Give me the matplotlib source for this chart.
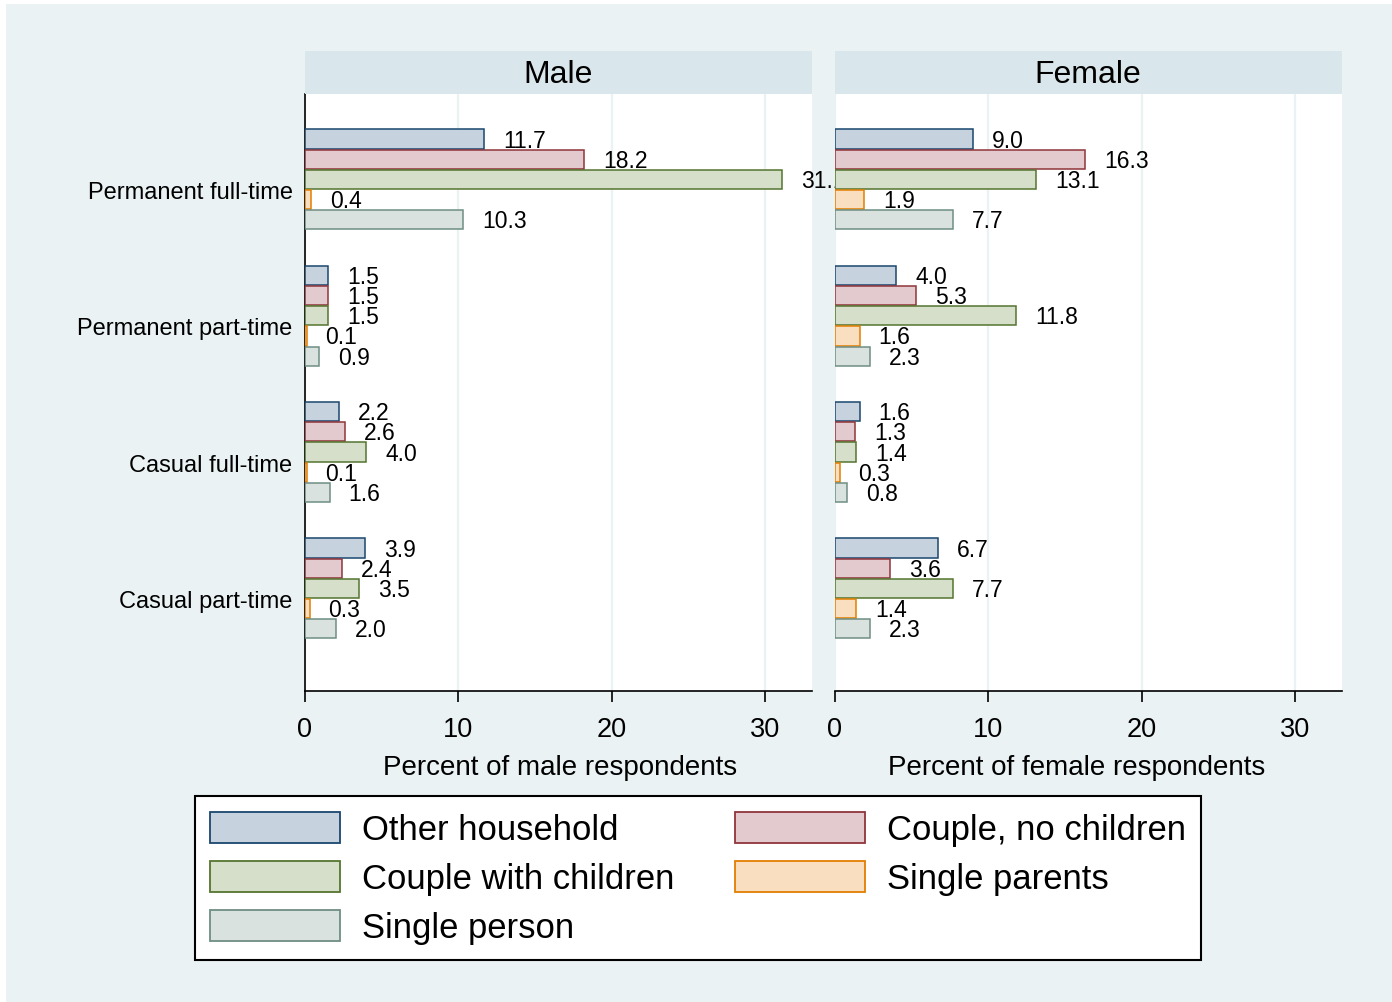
import numpy as np
import matplotlib.pyplot as plt
from matplotlib.patches import Rectangle, Patch

plt.rcParams['font.family'] = ['Liberation Sans', 'DejaVu Sans']

categories = ["Permanent full-time", "Permanent part-time", "Casual full-time", "Casual part-time"]
households = ["Other household", "Couple, no children", "Couple with children",
              "Single parents", "Single person"]

# rows = categories, columns = household types
male = np.array([[11.7, 18.2, 31.1, 0.4, 10.3],
                 [1.5, 1.5, 1.5, 0.1, 0.9],
                 [2.2, 2.6, 4.0, 0.1, 1.6],
                 [3.9, 2.4, 3.5, 0.3, 2.0]])
female = np.array([[9.0, 16.3, 13.1, 1.9, 7.7],
                   [4.0, 5.3, 11.8, 1.6, 2.3],
                   [1.6, 1.3, 1.4, 0.3, 0.8],
                   [6.7, 3.6, 7.7, 1.4, 2.3]])

fills = ["#C6D2DD", "#E3CACE", "#D5DFCA", "#F9DFC0", "#DAE2DF"]
edges = ["#1A476F", "#90353B", "#55752F", "#E37E00", "#6E8E84"]

bg = "#EAF2F3"
strip = "#D9E6EB"

W, H = 1392, 1003
fig = plt.figure(figsize=(W / 100, H / 100), dpi=100)
fig.patch.set_facecolor("white")
fig.patches.append(Rectangle((6 / W, 0), 1, 1 - 5 / H, transform=fig.transFigure,
                             facecolor=bg, edgecolor="none", zorder=-10))

group_pitch = 6.75
xmax = 33.07

panels = [("Male", male, "Percent of male respondents", 305, 0.503),
          ("Female", female, "Percent of female respondents", 835, 0.477)]

for title, data, xlabel, left_px, xlab_pos in panels:
    ax = fig.add_axes([left_px / W, 1 - 692 / H, 507 / W, (692 - 95) / H])
    ax.set_facecolor("white")
    for k in range(len(households)):
        y = np.arange(len(categories)) * group_pitch + k
        ax.barh(y, data[:, k], height=0.95, color=fills[k], edgecolor=edges[k],
                linewidth=1.1, zorder=3)
        for yy, v in zip(y, data[:, k]):
            ax.annotate(f"{v:.1f}", (v, yy), xytext=(19, -1), textcoords="offset pixels",
                        ha="left", va="center", fontsize=16.5, annotation_clip=False,
                        clip_on=False, zorder=4)
    ax.set_xlim(0, xmax)
    ax.set_ylim(27.33, -2.23)
    ax.set_xticks([0, 10, 20, 30])
    ax.grid(axis="x", color=bg, linewidth=1.6, zorder=0)
    ax.tick_params(axis="x", labelsize=19.5, length=8, width=1.2, pad=10)
    ax.set_xlabel(xlabel, fontsize=20)
    ax.xaxis.set_label_coords(xlab_pos, -0.105)
    for s in ["top", "right"]:
        ax.spines[s].set_visible(False)
    ax.spines["bottom"].set_linewidth(1.2)
    if title == "Male":
        ax.set_yticks(np.arange(len(categories)) * group_pitch + 2.5)
        ax.set_yticklabels(categories, fontsize=17)
        ax.tick_params(axis="y", length=0, pad=9)
        ax.spines["left"].set_linewidth(1.2)
    else:
        ax.set_yticks([])
        ax.spines["left"].set_visible(False)
    # header strip
    fig.patches.append(Rectangle((left_px / W, 1 - 95 / H), 507 / W, 43 / H,
                                 transform=fig.transFigure, facecolor=strip,
                                 edgecolor="none", zorder=1))
    fig.text((left_px + 253) / W, 1 - 75 / H, title, ha="center", va="center", fontsize=23)

handles = [Patch(facecolor=fills[k], edgecolor=edges[k], linewidth=1.3)
           for k in range(len(households))]
# row-major order as in the reference (matplotlib fills columns first)
order = [0, 2, 4, 1, 3]
leg = fig.legend([handles[i] for i in order], [households[i] for i in order],
                 loc="center", bbox_to_anchor=(698 / W, 1 - 879 / H), ncol=2,
                 fontsize=24.9, frameon=True, fancybox=False, edgecolor="black",
                 facecolor="white", framealpha=1,
                 handlelength=3.75, handleheight=1.0, handletextpad=0.64,
                 columnspacing=1.75, labelspacing=0.43, borderpad=0.45,
                 borderaxespad=0)
leg.get_frame().set_linewidth(1.5)

fig.savefig("out.png", dpi=100, facecolor=fig.get_facecolor())
